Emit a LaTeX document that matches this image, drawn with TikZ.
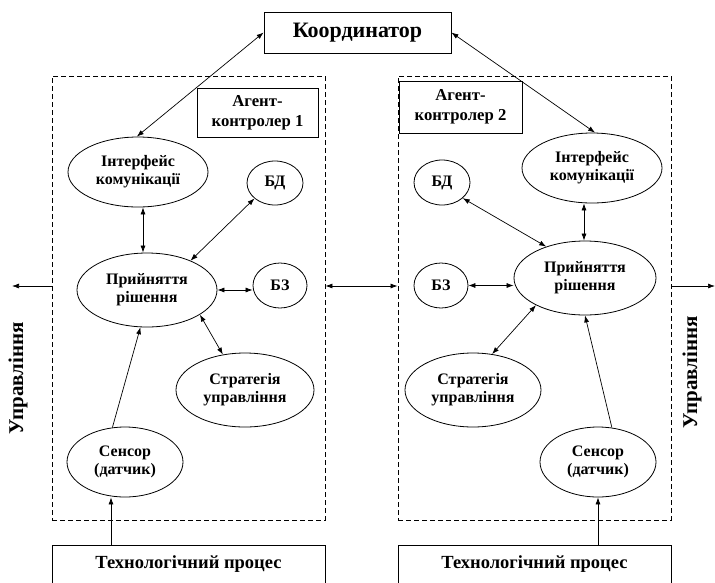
\documentclass[tikz,border=0pt]{standalone}
\usepackage{fontspec}
\setmainfont{Liberation Serif}
\usetikzlibrary{shapes.geometric,arrows.meta,calc}
\begin{document}
\begin{tikzpicture}[x=1pt,y=-1pt,
  every node/.style={font=\bfseries\fontsize{16}{18}\selectfont, align=center, inner sep=0pt},
  ell/.style={draw, ellipse, line width=0.8pt},
  box/.style={draw, rectangle, line width=0.8pt},
  dbox/.style={draw, rectangle, dash pattern=on 5pt off 3pt, line width=0.9pt},
  arr/.style={-{Latex[length=7pt,width=5pt]}, line width=0.7pt},
  darr/.style={{Latex[length=7pt,width=5pt]}-{Latex[length=7pt,width=5pt]}, line width=0.7pt},
  vlabel/.style={rotate=90, font=\bfseries\fontsize{21}{23}\selectfont},
  agtext/.style={font=\bfseries\fontsize{16.7}{20}\selectfont},
  tptext/.style={font=\bfseries\fontsize{18.5}{20}\selectfont}]
\useasboundingbox (0,0) rectangle (715,582);

% frames and boxes
\node[box, minimum width=187pt, minimum height=41pt, font=\bfseries\fontsize{22}{24}\selectfont] (coord) at (357.5,32.5) {Координатор};
\node[dbox, minimum width=273pt, minimum height=444pt] (box1) at (188.5,298) {};
\node[dbox, minimum width=273pt, minimum height=444pt] (box2) at (534.5,298) {};
\node[box, agtext, minimum width=121pt, minimum height=49pt] (ag1) at (257.5,112.5) {Агент-\\контролер 1};
\node[box, agtext, minimum width=123pt, minimum height=52pt] (ag2) at (460.5,107) {Агент-\\контролер 2};
\node[box, tptext, minimum width=273pt, minimum height=38pt] (tp1) at (188.5,564) {Технологічний процес};
\node[box, tptext, minimum width=273pt, minimum height=38pt] (tp2) at (534.5,564) {Технологічний процес};

% left agent
\node[ell, minimum width=140pt, minimum height=70pt] (int1) at (138,172) {Інтерфейс\\комунікації};
\node[ell, minimum width=56pt, minimum height=44pt] (bd1) at (275,183) {БД};
\node[ell, minimum width=140pt, minimum height=74pt] (pr1) at (147,290) {Прийняття\\рішення};
\node[ell, minimum width=54pt, minimum height=45pt] (bz1) at (280,285.5) {БЗ};
\node[ell, minimum width=138pt, minimum height=74pt] (str1) at (245,390) {Стратегія\\управління};
\node[ell, minimum width=116pt, minimum height=70pt] (sen1) at (125,462) {Сенсор\\(датчик)};

% right agent
\node[ell, minimum width=140pt, minimum height=70pt] (int2) at (592,168) {Інтерфейс\\комунікації};
\node[ell, minimum width=56pt, minimum height=45pt] (bd2) at (442,182.5) {БД};
\node[ell, minimum width=142pt, minimum height=74pt] (pr2) at (585,278) {Прийняття\\рішення};
\node[ell, minimum width=54pt, minimum height=45pt] (bz2) at (441,285.5) {БЗ};
\node[ell, minimum width=136pt, minimum height=74pt] (str2) at (473,390) {Стратегія\\управління};
\node[ell, minimum width=116pt, minimum height=70pt] (sen2) at (598,462) {Сенсор\\(датчик)};

% side labels
\node[vlabel] (u1) at (18,378) {Управління};
\node[vlabel] (u2) at (692,372) {Управління};

% helper coordinates
\coordinate (lx) at (143,0);
\coordinate (sx1) at (111,0);
\coordinate (rx) at (584,0);
\coordinate (mid) at (0,286);
\coordinate (uL) at (12,286);
\coordinate (uR) at (715,286);

% connectors
\draw[darr] (coord.west) -- (int1.92);
\draw[darr] (coord.east) -- (int2.85);
\draw[darr] (int1.south -| lx) -- (pr1.north -| lx);
\draw[darr] (bd1.217) -- (pr1.34);
\draw[darr] (pr1.east) -- (pr1.east -| bz1.west);
\draw[darr] (pr1.335) -- (str1.122);
\draw[arr] (sen1.110) -- (pr1.260);
\draw[arr] (tp1.north -| sx1) -- (sen1.south -| sx1);

\draw[darr] (int2.south -| rx) -- (pr2.north -| rx);
\draw[darr] (bd2.323) -- (pr2.141);
\draw[darr] (bz2.east) -- (bz2.east -| pr2.west);
\draw[darr] (pr2.209) -- (str2.62);
\draw[arr] (sen2.68) -- (pr2.south);
\draw[arr] (tp2.north -| sen2.south) -- (sen2.south);

\draw[arr] (mid -| box1.west) -- (uL);
\draw[darr] (mid -| box1.east) -- (mid -| box2.west);
\draw[arr] (mid -| box2.east) -- (uR);
\end{tikzpicture}
\end{document}
